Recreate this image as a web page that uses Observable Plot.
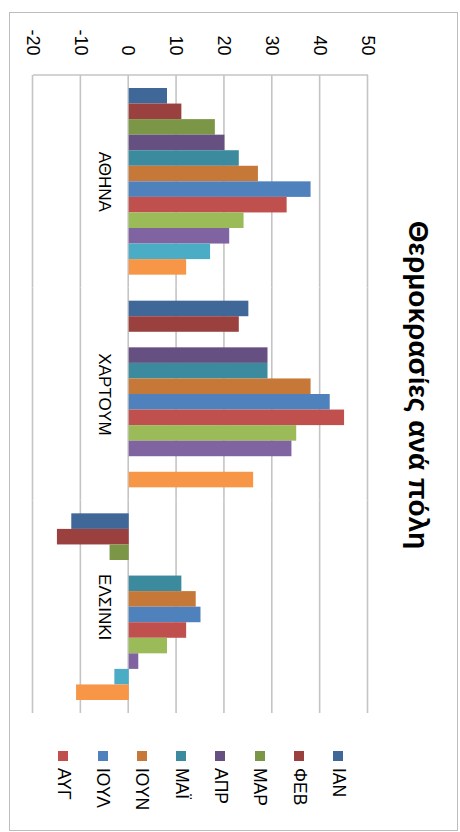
<!DOCTYPE html>
<html>
<head>
<meta charset="utf-8">
<script src="https://cdn.jsdelivr.net/npm/d3@7"></script>
<script src="https://cdn.jsdelivr.net/npm/@observablehq/plot@0.6"></script>
<style>
  html, body { margin: 0; padding: 0; background: #fff; width: 460px; height: 832px; overflow: hidden; }
  /* the chart is laid out landscape and turned a quarter turn clockwise */
  #page { position: absolute; left: 460px; top: 0; width: 832px; height: 460px;
          transform-origin: 0 0; transform: rotate(90deg);
          font-family: "Liberation Sans", Arial, sans-serif; color: #000; background: #fff; }
  #border { position: absolute; left: 12px; top: 2px; width: 817px; height: 447px; border: 1.5px solid #bdbdbd; }
  #chart { position: absolute; left: 0; top: 0; }
  #title { position: absolute; left: 385px; top: 28px; transform: translateX(-50%);
           font-weight: bold; font-size: 28px; line-height: 28px; white-space: nowrap; }
  #legend { position: absolute; left: 751px; top: 102px; display: flex; flex-direction: column; }
  #legend .item { height: 39.3px; display: flex; align-items: center; font-size: 17.5px; }
  #legend .sw { width: 10px; height: 10px; margin-right: 7px; flex: none; }
</style>
</head>
<body>
<div id="page">
  <div id="border"></div>
  <div id="chart"></div>
  <div id="title">Θερμοκρασίες ανά πόλη</div>
  <div id="legend"></div>
</div>
<script>
// Monthly temperatures (°C) per city
const cities = ["ΑΘΗΝΑ", "ΧΑΡΤΟΥΜ", "ΕΛΣΙΝΚΙ"];
const months = ["ΙΑΝ", "ΦΕΒ", "ΜΑΡ", "ΑΠΡ", "ΜΑΪ", "ΙΟΥΝ", "ΙΟΥΛ", "ΑΥΓ", "ΣΕΠ", "ΟΚΤ", "ΝΟΕ", "ΔΕΚ"];
const athens   = [8, 11, 18, 20, 23, 27, 38, 33, 24, 21, 17, 12];
const khartoum = [25, 23, null, 29, 29, 38, 42, 45, 35, 34, null, 26];
const helsinki = [-12, -15, -4, null, 11, 14, 15, 12, 8, 2, -3, -11];
const monthColors = ["#3f6797", "#9a403e", "#7c9647", "#665082", "#3c8a9e", "#c67838",
                     "#4f81bd", "#c0504d", "#9bbb59", "#8064a2", "#4bacc6", "#f79646"];
const yTicks = [-20, -10, 0, 10, 20, 30, 40, 50];
const legendMonths = months.slice(0, 8);

const series = [athens, khartoum, helsinki];
const rows = cities.flatMap((city, i) =>
  months.map((month, j) => ({city, month, temp: series[i][j]}))
).filter(d => d.temp != null);

const marginLeft = 75;

const chart = Plot.plot({
  width: 832,
  height: 460,
  marginLeft,
  marginRight: 119,
  marginTop: 92,
  marginBottom: 33,
  style: {fontFamily: "Liberation Sans, Arial, sans-serif", fontSize: "18px", color: "#000", background: "transparent"},
  facet: {data: rows, x: "city"},
  fx: {domain: cities, padding: 0, round: false, axis: null, label: null},
  x: {domain: months, paddingInner: 0, paddingOuter: 0.836, round: false, axis: null, label: null},
  y: {domain: [-20, 50], ticks: yTicks, tickSize: 0, tickPadding: 20, tickFormat: d => String(d), label: null},
  color: {domain: months, range: monthColors},
  marks: [
    Plot.ruleY(yTicks, {stroke: "#c4c4c4", strokeWidth: 1.6}),
    Plot.barY(rows, {x: "month", y: "temp", fill: "month"}),
    Plot.text(rows, Plot.selectFirst({text: "city", y: () => 0, dy: 24, fontSize: 17, fill: "#000"}))
  ]
});

// value axis line along the plot's left edge
const ys = chart.scale("y");
d3.select(chart).append("line")
  .attr("x1", marginLeft).attr("x2", marginLeft)
  .attr("y1", ys.apply(yTicks[0])).attr("y2", ys.apply(yTicks[yTicks.length - 1]))
  .attr("stroke", "#c4c4c4").attr("stroke-width", 1.6);

document.getElementById("chart").appendChild(chart);

// legend swatches from the chart's color scale
const color = chart.scale("color");
const legend = d3.select("#legend");
for (const m of legendMonths) {
  const item = legend.append("div").attr("class", "item");
  item.append("div").attr("class", "sw").style("background", color.apply(m));
  item.append("span").text(m);
}
</script>
</body>
</html>
